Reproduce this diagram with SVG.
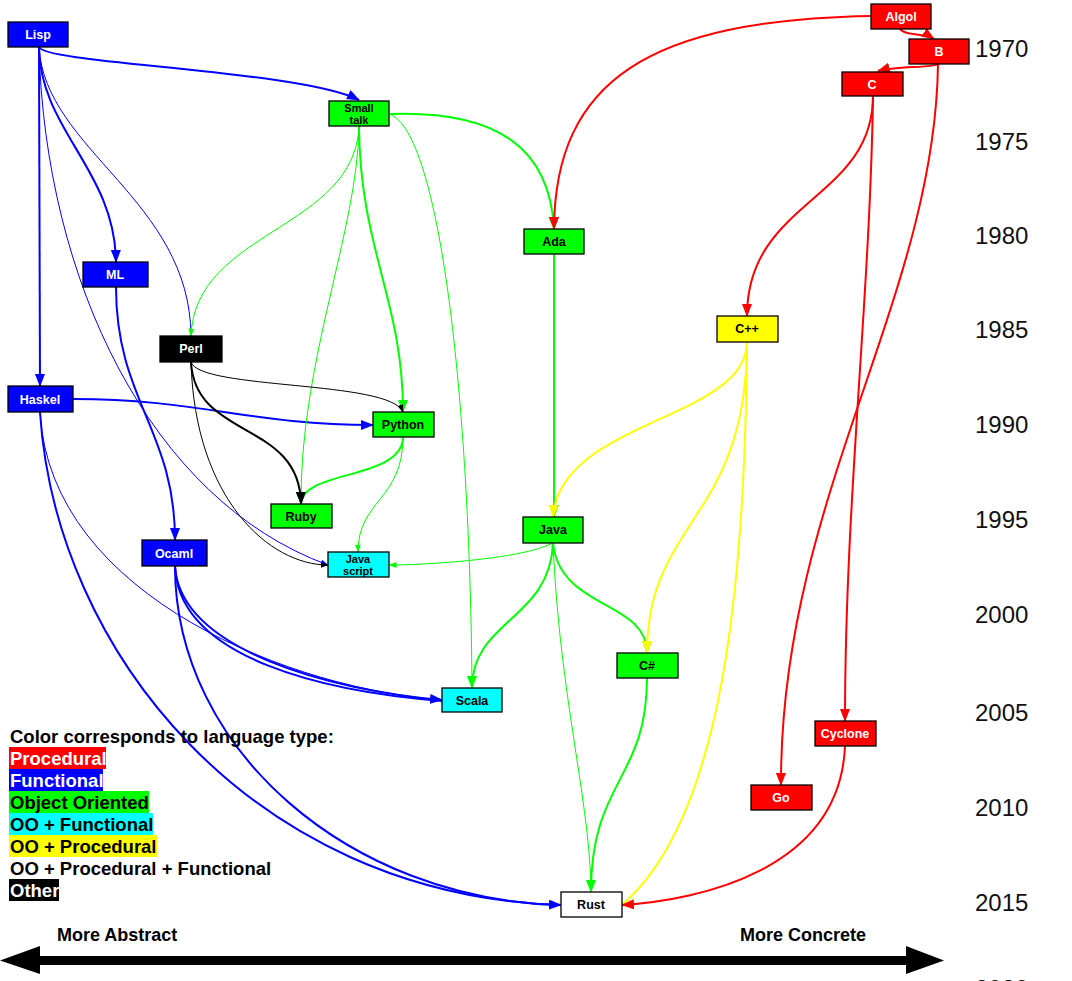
<svg xmlns="http://www.w3.org/2000/svg" width="1072" height="981" viewBox="0 0 1072 981">
<style>
.n rect{stroke:#000;stroke-width:1.3}
.n text{font-family:"Liberation Sans",Arial,sans-serif;font-weight:bold;font-size:12.5px;text-anchor:middle}
.w text{fill:#fff}
.k text{fill:#000}
.s text{font-size:11px}
.e path{fill:none}
.b{stroke:#0000ff}.g{stroke:#00ff00}.r{stroke:#ff0000}.y{stroke:#ffff00}.k0{stroke:#000}
.T{stroke-width:2}.t{stroke-width:1}
.yr{font-family:"Liberation Sans",Arial,sans-serif;font-size:24px;fill:#111}
.lg{font-family:"Liberation Sans",Arial,sans-serif;font-weight:bold;font-size:18.5px}
.ax{font-family:"Liberation Sans",Arial,sans-serif;font-weight:bold;font-size:18px}
</style>
<defs>
<marker id="bB" markerUnits="userSpaceOnUse" markerWidth="13" markerHeight="10" refX="12" refY="5" orient="auto"><path d="M0,0 L13,5 L0,10 z" fill="#0000ff"/></marker>
<marker id="gB" markerUnits="userSpaceOnUse" markerWidth="13" markerHeight="10" refX="12" refY="5" orient="auto"><path d="M0,0 L13,5 L0,10 z" fill="#00ff00"/></marker>
<marker id="rB" markerUnits="userSpaceOnUse" markerWidth="13" markerHeight="10" refX="12" refY="5" orient="auto"><path d="M0,0 L13,5 L0,10 z" fill="#ff0000"/></marker>
<marker id="yB" markerUnits="userSpaceOnUse" markerWidth="13" markerHeight="10" refX="12" refY="5" orient="auto"><path d="M0,0 L13,5 L0,10 z" fill="#ffff00"/></marker>
<marker id="kB" markerUnits="userSpaceOnUse" markerWidth="13" markerHeight="10" refX="12" refY="5" orient="auto"><path d="M0,0 L13,5 L0,10 z" fill="#000"/></marker>
<marker id="bS" markerUnits="userSpaceOnUse" markerWidth="8" markerHeight="6" refX="7.5" refY="3" orient="auto"><path d="M0,0 L8,3 L0,6 z" fill="#0000ff"/></marker>
<marker id="gS" markerUnits="userSpaceOnUse" markerWidth="8" markerHeight="6" refX="7.5" refY="3" orient="auto"><path d="M0,0 L8,3 L0,6 z" fill="#00ff00"/></marker>
<marker id="kS" markerUnits="userSpaceOnUse" markerWidth="8" markerHeight="6" refX="7.5" refY="3" orient="auto"><path d="M0,0 L8,3 L0,6 z" fill="#000"/></marker>
</defs>
<rect width="1072" height="981" fill="#fff"/>

<g id="connectors" class="e">
<!-- blue -->
<path class="b T" d="M39,47 C45,64 300,70 359,100" marker-end="url(#bB)"/>
<path class="b T" d="M39,47 L40,386" marker-end="url(#bB)"/>
<path class="b T" d="M39,47 C40,130 115,170 116,262" marker-end="url(#bB)"/>
<path class="b t" d="M39,47 C45,150 190,200 191,336"/>
<path class="b t" d="M39,47 C45,280 150,500 328,565" marker-end="url(#bS)"/>
<path class="b T" d="M116,287 C116,400 175,430 175,540" marker-end="url(#bB)"/>
<path class="b T" d="M73,399 C200,399 250,425 373,425" marker-end="url(#bB)"/>
<path class="b t" d="M40,412 C50,600 300,690 442,700"/>
<path class="b T" d="M40,412 C55,650 250,895 561,905" marker-end="url(#bB)"/>
<path class="b T" d="M175,566 C180,650 330,690 442,700" marker-end="url(#bB)"/>
<path class="b T" d="M175,566 C178,660 330,692 442,701"/>
<path class="b T" d="M175,566 C175,750 350,900 561,905"/>
<!-- green -->
<path class="g t" d="M359,126 C355,230 195,230 191,336" marker-end="url(#gS)"/>
<path class="g t" d="M359,126 C358,230 300,360 301,504"/>
<path class="g T" d="M359,126 C360,250 403,300 403,412" marker-end="url(#gB)"/>
<path class="g T" d="M389,114 C500,110 550,150 554,229" marker-end="url(#gB)"/>
<path class="g t" d="M389,114 C440,130 470,400 472,688"/>
<path class="g T" d="M403,437 C403,480 301,470 301,504" marker-end="url(#gB)"/>
<path class="g t" d="M403,437 C403,500 358,500 358,552" marker-end="url(#gS)"/>
<path class="g t" d="M553,543 C520,560 420,565 389,565" marker-end="url(#gS)"/>
<path class="g T" d="M554,254 L554,517" marker-end="url(#gB)"/>
<path class="g T" d="M553,543 C550,620 472,620 472,688" marker-end="url(#gB)"/>
<path class="g T" d="M553,543 C560,610 647,600 647,653" marker-end="url(#gB)"/>
<path class="g t" d="M553,543 C560,700 590,800 591,892"/>
<path class="g T" d="M647,678 C647,780 591,780 591,892" marker-end="url(#gB)"/>
<!-- black -->
<path class="k0 t" d="M191,362 C200,390 390,380 403,412" marker-end="url(#kS)"/>
<path class="k0 T" d="M191,362 C195,440 300,420 301,504" marker-end="url(#kB)"/>
<path class="k0 t" d="M191,362 C195,500 270,565 328,565" marker-end="url(#kS)"/>
<!-- yellow -->
<path class="y T" d="M747,342 C747,420 560,420 553,517" marker-end="url(#yB)"/>
<path class="y T" d="M747,342 C747,520 647,520 647,653" marker-end="url(#yB)"/>
<path class="y T" d="M747,342 C745,600 720,820 622,905"/>
<!-- red -->
<path class="r T" d="M871,16 C650,20 555,80 554,229" marker-end="url(#rB)"/>
<path class="r T" d="M900,29 C905,36 925,33 934,39" marker-end="url(#rB)"/>
<path class="r T" d="M938,64 C935,68 895,66 878,71" marker-end="url(#rB)"/>
<path class="r T" d="M938,64 C935,300 780,500 781,785" marker-end="url(#rB)"/>
<path class="r T" d="M873,96 C873,200 747,200 747,316" marker-end="url(#rB)"/>
<path class="r T" d="M873,96 C870,300 845,500 845,721" marker-end="url(#rB)"/>
<path class="r T" d="M845,746 C840,870 700,900 622,905" marker-end="url(#rB)"/>
</g>

<g id="Lisp" class="n w"><rect x="8" y="22" width="60" height="25" fill="#0000ff"/><text x="38" y="39">Lisp</text></g>
<g id="Smalltalk" class="n k s"><rect x="329" y="101" width="60" height="25" fill="#00ff00"/><text x="359" y="112">Small</text><text x="359" y="124">talk</text></g>
<g id="Algol" class="n w"><rect x="871" y="4" width="60" height="25" fill="#ff0000"/><text x="901" y="21">Algol</text></g>
<g id="B" class="n w"><rect x="909" y="39" width="60" height="25" fill="#ff0000"/><text x="939" y="56">B</text></g>
<g id="C" class="n w"><rect x="842" y="72" width="61" height="24" fill="#ff0000"/><text x="872" y="89">C</text></g>
<g id="Ada" class="n k"><rect x="524" y="229" width="60" height="25" fill="#00ff00"/><text x="554" y="246">Ada</text></g>
<g id="ML" class="n w"><rect x="83" y="262" width="65" height="25" fill="#0000ff"/><text x="115" y="279">ML</text></g>
<g id="Perl" class="n w"><rect x="160" y="336" width="62" height="26" fill="#000"/><text x="191" y="353">Perl</text></g>
<g id="Cpp" class="n k"><rect x="717" y="316" width="61" height="26" fill="#ffff00"/><text x="747" y="333">C++</text></g>
<g id="Haskel" class="n w"><rect x="8" y="386" width="65" height="26" fill="#0000ff"/><text x="40" y="404">Haskel</text></g>
<g id="Python" class="n k"><rect x="373" y="412" width="61" height="25" fill="#00ff00"/><text x="403" y="429">Python</text></g>
<g id="Ruby" class="n k"><rect x="271" y="504" width="61" height="24" fill="#00ff00"/><text x="301" y="521">Ruby</text></g>
<g id="Java" class="n k"><rect x="523" y="517" width="60" height="26" fill="#00ff00"/><text x="553" y="534">Java</text></g>
<g id="Ocaml" class="n w"><rect x="142" y="540" width="65" height="26" fill="#0000ff"/><text x="174" y="558">Ocaml</text></g>
<g id="Javascript" class="n k s"><rect x="328" y="552" width="61" height="25" fill="#00ffff"/><text x="358" y="563">Java</text><text x="358" y="575">script</text></g>
<g id="Csharp" class="n k"><rect x="617" y="653" width="61" height="25" fill="#00ff00"/><text x="647" y="670">C#</text></g>
<g id="Scala" class="n k"><rect x="442" y="688" width="60" height="24" fill="#00ffff"/><text x="472" y="705">Scala</text></g>
<g id="Cyclone" class="n w"><rect x="815" y="721" width="61" height="25" fill="#ff0000"/><text x="845" y="738">Cyclone</text></g>
<g id="Go" class="n w"><rect x="751" y="785" width="61" height="25" fill="#ff0000"/><text x="781" y="802">Go</text></g>
<g id="Rust" class="n k"><rect x="561" y="892" width="61" height="25" fill="#ffffff"/><text x="591" y="909">Rust</text></g>

<g id="years" class="yr">
<text x="975" y="57">1970</text>
<text x="975" y="150">1975</text>
<text x="975" y="244">1980</text>
<text x="975" y="338">1985</text>
<text x="975" y="433">1990</text>
<text x="975" y="528">1995</text>
<text x="975" y="623">2000</text>
<text x="975" y="721">2005</text>
<text x="975" y="816">2010</text>
<text x="975" y="911">2015</text>
<text x="975" y="997">2020</text>
</g>

<g id="legend" class="lg">
<rect x="9" y="747" width="97" height="22" fill="#ff0000"/>
<rect x="9" y="769" width="94" height="22" fill="#0000ff"/>
<rect x="9" y="791" width="140" height="22" fill="#00ff00"/>
<rect x="9" y="813" width="144" height="22" fill="#00ffff"/>
<rect x="9" y="835" width="148" height="22" fill="#ffff00"/>
<rect x="9" y="879" width="50" height="22" fill="#000"/>
<text x="10" y="743">Color corresponds to language type:</text>
<text x="10" y="765" fill="#fff">Procedural</text>
<text x="10" y="787" fill="#fff">Functional</text>
<text x="10" y="809">Object Oriented</text>
<text x="10" y="831">OO + Functional</text>
<text x="10" y="853">OO + Procedural</text>
<text x="10" y="875">OO + Procedural + Functional</text>
<text x="10" y="897" fill="#fff">Other</text>
</g>

<g id="axis">
<path d="M0,960.5 L40,946 L40,956 L906,956 L906,946 L944,960.5 L906,974 L906,965 L40,965 L40,974 z" fill="#000"/>
<text class="ax" x="57" y="941">More Abstract</text>
<text class="ax" x="740" y="941">More Concrete</text>
</g>
</svg>
